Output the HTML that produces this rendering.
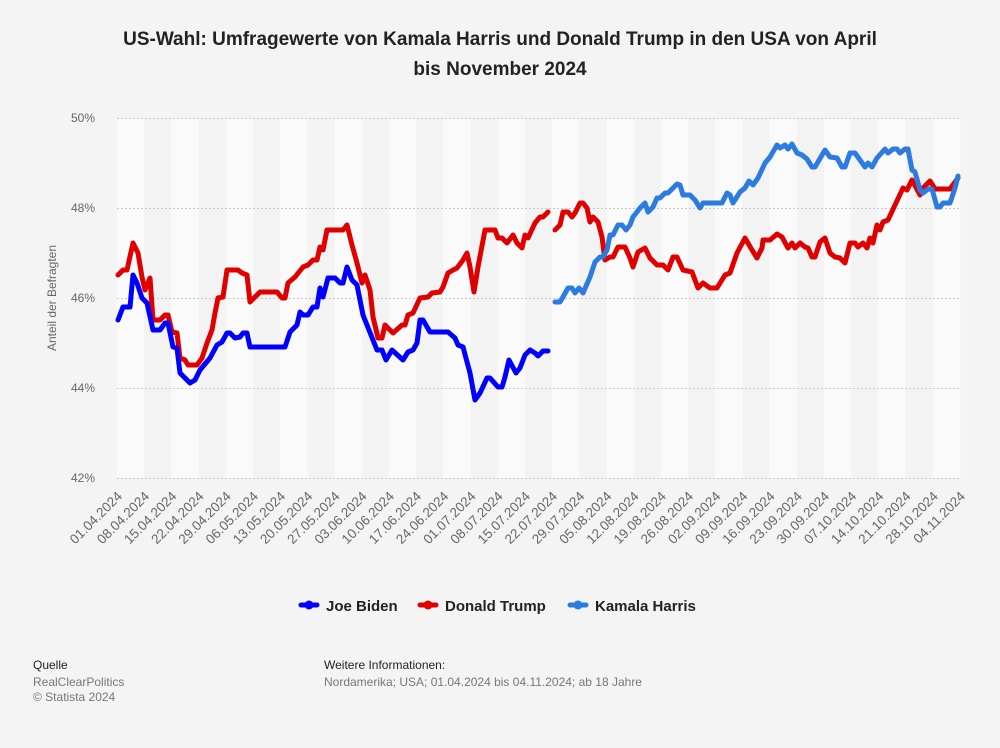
<!DOCTYPE html>
<html><head><meta charset="utf-8"><style>
body{margin:0;background:#f4f4f4;font-family:"Liberation Sans",Arial,sans-serif;}
</style></head><body>
<svg width="1000" height="743" xmlns="http://www.w3.org/2000/svg" font-family="Liberation Sans, Arial, sans-serif">
<rect width="1000" height="743" fill="#f4f4f4"/>
<text x="500" y="45" text-anchor="middle" font-size="19" font-weight="bold" fill="#222">US-Wahl: Umfragewerte von Kamala Harris und Donald Trump in den USA von April</text>
<text x="500" y="75" text-anchor="middle" font-size="19" font-weight="bold" fill="#222">bis November 2024</text>
<g id="bands"></g>
<g stroke="#c8c8c8" stroke-dasharray="2,2" stroke-width="1">
<line x1="117" x2="960" y1="118.5" y2="118.5"/><line x1="117" x2="960" y1="208.5" y2="208.5"/>
<line x1="117" x2="960" y1="298.5" y2="298.5"/><line x1="117" x2="960" y1="388.5" y2="388.5"/>
<line x1="117" x2="960" y1="478.5" y2="478.5"/>
</g>
<g font-size="12" fill="#666" text-anchor="end">
<text x="95" y="122">50%</text><text x="95" y="212">48%</text><text x="95" y="302">46%</text><text x="95" y="392">44%</text><text x="95" y="482">42%</text>
</g>
<text transform="translate(56,298) rotate(-90)" text-anchor="middle" font-size="12" fill="#666">Anteil der Befragten</text>
<g id="ticks" font-size="13.5" fill="#666" text-anchor="end"></g>
<g fill="none" stroke-width="5" stroke-linejoin="round" stroke-linecap="round">
<polyline stroke="#e00000" points="118,275 123,270 127,270 133,243 138,253 142,277 145,290 150,278 153,320 160,320 165,315 168,315 172,332 177,333 180,358 185,360 188,365 197,365 202,358 207,343 212,330 215,313 218,298 223,297 227,270 238,270 242,273 247,275 250,302 257,295 260,292 277,292 282,298 285,298 288,283 295,277 303,267 308,265 313,260 317,260 320,247 323,250 327,230 343,230 347,225 352,245 357,263 362,283 365,275 370,290 373,317 378,338 382,338 385,325 388,328 393,333 402,325 405,325 408,315 413,313 420,298 428,297 432,293 440,292 443,287 448,273 453,270 457,268 463,260 467,253 470,267 474,292 478,267 485,230 495,230 498,238 502,238 507,243 513,235 517,243 522,248 525,235 528,238 535,223 540,217 543,217 548,212"/>
<polyline stroke="#e00000" points="555,230 560,225 563,212 568,212 572,217 575,213 580,203 583,203 587,208 590,222 593,217 598,222 602,237 605,260 610,257 613,257 618,247 625,247 630,258 633,267 638,252 645,248 650,258 657,265 663,265 668,270 673,257 677,257 683,270 692,272 698,288 703,283 710,288 717,288 725,275 730,273 737,253 745,238 752,250 757,258 762,248 763,240 770,240 777,234 782,237 788,248 792,243 795,248 800,243 805,247 808,248 812,257 815,257 820,242 825,238 830,253 835,257 840,258 845,263 850,243 855,243 858,247 863,243 867,248 870,238 873,243 877,225 880,230 883,222 888,220 903,188 907,190 912,180 920,195 923,188 930,181 935,189 950,189 958,178"/>
<polyline stroke="#0000ff" points="118,320 123,307 130,307 133,275 137,283 142,298 147,303 153,330 160,330 165,323 168,323 173,347 177,348 180,373 190,383 195,380 200,370 210,358 217,345 222,342 227,333 230,333 235,338 240,337 243,333 247,333 250,347 285,347 290,332 297,325 300,312 303,315 308,315 313,307 317,307 320,288 323,297 328,278 335,278 340,283 343,283 347,267 352,280 357,285 363,315 377,350 382,350 386,360 392,350 403,360 408,352 413,350 417,343 420,320 423,320 430,332 448,332 455,338 458,345 463,347 470,373 475,400 480,393 487,378 490,378 498,387 502,387 505,377 509,360 516,373 520,368 525,355 530,350 535,353 538,356 543,351 548,351"/>
<polyline stroke="#2c7be0" points="555,302 560,302 563,297 568,288 572,288 575,293 579,288 583,293 590,277 595,262 600,257 603,257 607,250 610,235 613,235 618,225 622,225 626,230 630,225 633,217 640,208 645,203 648,212 653,207 657,198 660,198 665,193 668,193 677,184 680,185 683,195 690,195 695,200 700,208 703,203 722,203 727,193 730,195 733,203 740,192 745,188 749,181 753,185 758,178 765,163 770,157 777,145 780,148 785,145 788,149 792,144 797,153 802,155 807,159 812,167 815,167 825,150 830,157 837,158 842,167 845,167 850,153 855,153 865,167 868,163 872,167 877,158 885,149 888,153 893,149 897,149 900,153 905,149 908,149 912,170 915,172 920,190 923,193 928,189 932,189 937,207 940,207 943,203 950,203 955,188 958,176"/>
</g>
<g font-size="15" font-weight="bold" fill="#222">
<line x1="301" x2="317" y1="605" y2="605" stroke="#0000ff" stroke-width="5" stroke-linecap="round"/><circle cx="309" cy="605" r="4.5" fill="#0000ff"/>
<text x="326" y="611">Joe Biden</text>
<line x1="420" x2="436" y1="605" y2="605" stroke="#e00000" stroke-width="5" stroke-linecap="round"/><circle cx="428" cy="605" r="4.5" fill="#e00000"/>
<text x="445" y="611">Donald Trump</text>
<line x1="570" x2="586" y1="605" y2="605" stroke="#2c7be0" stroke-width="5" stroke-linecap="round"/><circle cx="578" cy="605" r="4.5" fill="#2c7be0"/>
<text x="595" y="611">Kamala Harris</text>
</g>
<g font-size="12">
<text x="33" y="669" fill="#222">Quelle</text>
<text x="33" y="686" fill="#777">RealClearPolitics</text>
<text x="33" y="701" fill="#777">© Statista 2024</text>
<text x="324" y="669" fill="#222">Weitere Informationen:</text>
<text x="324" y="686" fill="#777">Nordamerika; USA; 01.04.2024 bis 04.11.2024; ab 18 Jahre</text>
</g>
<script>
(function(){
var ns="http://www.w3.org/2000/svg",b=document.getElementById("bands"),t=document.getElementById("ticks");
var x0=117,pd=843/217;
for(var k=0;k<31;k++){var r=document.createElementNS(ns,"rect");var xa=x0+k*7*pd;r.setAttribute("x",xa);r.setAttribute("y",118);r.setAttribute("width",7*pd+0.5);r.setAttribute("height",360);r.setAttribute("fill",k%2?"#f3f3f3":"#fafafa");b.appendChild(r);}
var d=new Date(2024,3,1);
for(var k=0;k<32;k++){var dd=new Date(d.getTime()+k*7*86400000+3600000);
var s=("0"+dd.getDate()).slice(-2)+"."+("0"+(dd.getMonth()+1)).slice(-2)+"."+dd.getFullYear();
var x=x0+k*7*pd+6;var e=document.createElementNS(ns,"text");
e.setAttribute("transform","translate("+x+",497) rotate(-45)");e.textContent=s;t.appendChild(e);}
})();
</script>
</svg>
</body></html>
